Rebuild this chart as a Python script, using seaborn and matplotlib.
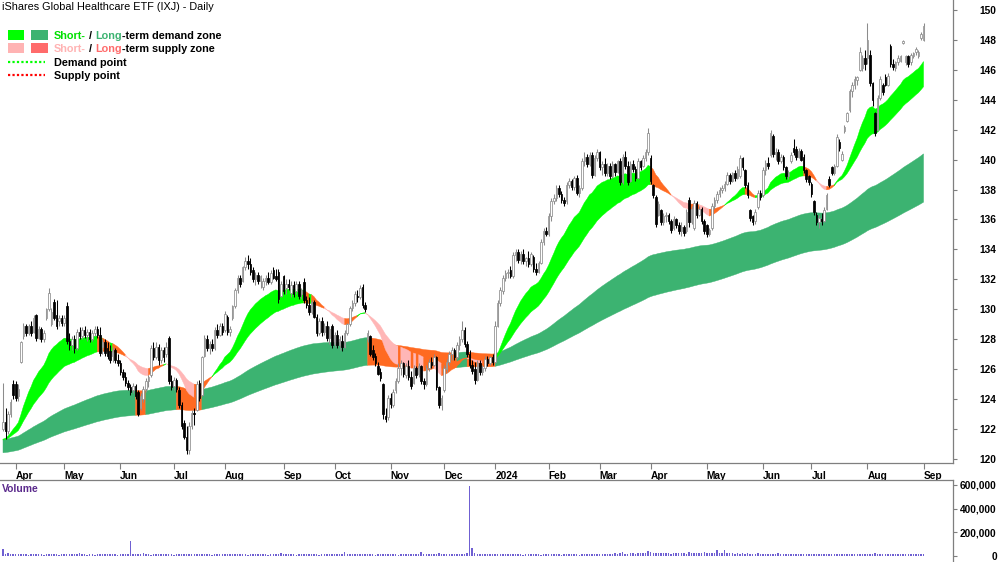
import numpy as np
import pandas as pd
import matplotlib
matplotlib.use("Agg")
import matplotlib.pyplot as plt
import seaborn as sns
from matplotlib.patches import Rectangle, Polygon
from matplotlib.lines import Line2D
import matplotlib.transforms as mtransforms

# ---------------- data ----------------
title = "iShares Global Healthcare ETF (IXJ) - Daily"
start_date = "2023-03-27"
end_date = "2024-09-03"
holidays = ["2023-04-07", "2023-05-29", "2023-06-19", "2023-07-04", "2023-09-04",
            "2023-11-23", "2023-12-25", "2024-01-01", "2024-01-15", "2024-02-19",
            "2024-03-29", "2024-05-27", "2024-06-19", "2024-07-04", "2024-09-02"]

opens = [
 122.0,122.5,121.9,123.0,125.0,125.0,124.2,126.5,128.2,128.9,
 128.4,128.9,128.5,129.6,128.1,128.7,128.0,129.4,130.0,129.0,
 130.5,129.6,129.2,129.4,129.1,130.2,127.9,127.6,128.0,127.4,
 128.5,128.2,128.6,128.3,128.5,128.0,128.4,128.7,128.3,127.5,
 127.8,127.4,127.2,126.9,127.3,126.6,126.4,125.8,125.5,125.1,
 124.8,124.6,124.9,124.5,123.4,124.0,124.7,125.2,125.6,127.4,
 126.8,127.5,126.6,127.3,127.0,128.1,125.2,124.9,125.3,124.6,
 123.6,122.4,121.5,120.6,122.2,123.1,123.3,125.1,124.3,126.9,
 128.0,127.4,127.7,127.4,128.6,128.3,128.9,128.6,129.5,128.5,
 129.4,130.2,131.3,132.1,131.9,132.8,133.2,133.0,132.6,132.0,
 132.3,131.9,131.5,131.9,132.1,131.8,132.6,132.2,132.5,130.9,
 132.2,131.4,131.7,131.1,131.6,131.2,131.7,131.0,131.8,130.6,
 130.3,129.8,130.5,129.5,128.4,129.2,128.5,128.9,128.1,128.9,
 127.7,128.3,127.6,127.9,127.5,128.4,129.0,130.1,130.4,130.9,
 130.8,131.5,130.3,128.0,128.2,127.3,126.9,126.2,125.8,125.0,
 122.9,122.8,124.1,123.6,124.6,125.2,126.1,126.4,125.6,126.2,
 125.5,125.1,126.1,125.7,126.2,125.2,125.0,126.1,126.5,126.3,
 126.8,124.8,123.6,124.6,126.0,126.5,127.0,127.3,126.8,127.6,
 128.0,128.6,127.7,127.0,126.3,126.0,125.3,126.4,125.8,126.1,
 126.7,126.4,126.8,126.5,128.9,130.4,131.2,132.1,132.4,132.6,
 132.2,133.6,133.8,133.3,133.7,133.2,133.4,133.0,133.5,132.7,
 132.5,133.1,134.5,135.2,135.0,136.2,137.2,137.4,138.1,137.7,
 137.3,137.2,138.3,138.6,138.2,138.8,137.8,138.1,139.9,140.2,
 139.7,140.3,139.0,140.1,140.5,139.5,139.7,139.1,139.6,138.9,
 139.7,139.2,139.9,138.5,140.2,139.6,138.6,139.7,139.4,138.8,
 139.9,139.6,140.1,140.5,140.1,138.3,137.5,136.3,136.6,135.8,
 136.2,136.3,135.9,135.4,136.0,135.6,135.2,135.5,135.2,137.3,
 135.8,135.4,137.1,136.3,136.7,135.9,135.6,135.0,135.4,136.9,
 137.3,137.7,138.0,138.1,138.4,139.0,138.6,139.1,138.8,138.9,
 140.1,139.3,138.3,136.6,136.2,135.9,136.8,137.8,137.6,139.3,
 139.8,140.3,141.6,140.4,140.5,139.9,140.2,139.5,138.9,139.9,
 140.8,140.7,140.2,140.6,140.2,139.3,138.9,138.4,137.2,136.3,
 135.8,136.0,135.9,136.7,138.7,139.5,139.1,139.6,141.2,140.0,
 141.9,142.6,143.3,144.6,145.0,145.3,146.0,146.1,146.8,146.8,
 147.0,145.1,143.1,142.0,144.1,145.0,145.5,145.0,147.6,146.4,
 146.1,146.5,146.6,147.8,146.5,146.9,146.5,146.9,147.2,146.9,
 148.1,148.0]

highs = [
 125.1,123.4,123.2,124.0,125.3,125.2,125.0,127.9,129.1,129.0,
 129.0,129.2,129.6,129.7,128.9,128.8,128.6,130.1,131.4,130.1,
 130.7,130.6,129.6,129.6,129.6,130.5,128.4,128.2,128.3,128.7,
 128.8,128.8,128.9,128.7,128.7,128.6,128.9,128.9,128.8,128.0,
 128.0,127.8,127.6,127.5,127.4,127.0,126.6,126.0,125.8,125.3,
 125.0,125.1,125.0,124.6,124.4,124.9,125.4,125.6,127.6,127.8,
 127.8,127.7,127.5,127.5,127.8,128.2,125.6,125.5,125.4,124.8,
 123.8,122.6,122.2,122.5,123.3,123.4,125.2,125.3,126.9,128.3,
 128.3,127.9,128.0,128.8,129.0,129.1,129.1,129.9,129.6,128.9,
 130.3,131.4,132.3,132.3,132.9,133.5,133.6,133.4,132.8,132.5,
 132.5,132.3,132.1,132.3,132.5,132.6,132.8,132.7,132.7,131.9,
 132.3,132.0,132.0,131.9,131.9,131.9,131.9,131.4,132.1,130.9,
 130.8,130.6,130.6,129.7,129.4,129.5,129.1,129.2,128.9,129.0,
 128.5,128.6,128.2,128.3,128.6,129.1,130.2,130.6,131.2,131.3,
 131.6,131.7,130.5,128.6,128.3,127.6,127.1,126.5,126.1,125.1,
 123.4,124.3,124.4,124.7,125.4,126.4,126.6,126.5,126.4,126.6,
 125.9,126.3,126.2,126.4,126.3,125.4,126.3,126.7,126.8,127.0,
 126.9,124.9,124.3,126.3,126.7,127.2,127.5,127.4,127.8,128.2,
 129.2,128.8,127.9,127.3,126.6,126.5,126.6,126.6,126.3,126.9,
 126.9,126.9,127.0,129.2,130.6,131.5,132.3,132.6,132.7,132.9,
 133.8,134.0,134.0,133.9,134.0,133.5,133.9,133.8,133.6,133.1,
 133.2,134.7,135.4,135.5,136.4,137.4,137.7,138.3,138.3,137.9,
 137.5,138.5,138.8,138.7,138.9,139.0,138.3,140.1,140.5,140.4,
 140.5,140.5,140.3,140.7,140.6,139.9,140.1,139.8,139.8,139.9,
 139.8,140.0,140.1,140.4,140.6,139.9,139.9,140.0,139.6,140.1,
 140.0,140.3,140.7,142.1,140.3,138.4,137.6,137.2,136.7,136.4,
 136.5,136.4,136.0,136.2,136.1,135.8,135.8,135.6,136.7,137.5,
 136.9,137.3,137.2,136.9,136.8,136.0,135.7,135.4,137.1,137.5,
 137.9,138.2,138.3,138.6,139.2,139.1,139.2,139.3,139.6,140.3,
 140.2,139.4,138.5,136.7,136.3,136.7,138.0,138.0,139.5,140.0,
 140.2,142.0,141.7,140.8,140.7,140.4,140.3,139.6,139.3,140.5,
 141.4,140.9,140.8,140.7,140.4,139.4,139.0,138.5,137.3,136.5,
 136.3,136.4,136.8,137.8,138.9,139.6,139.7,141.7,141.4,140.6,
 142.3,143.2,144.7,145.2,145.6,145.6,147.5,147.0,147.3,149.1,
 147.3,145.2,143.2,144.3,145.6,145.1,145.7,145.8,147.7,146.7,
 146.6,147.0,147.0,148.0,147.0,147.0,147.1,147.2,147.5,147.3,
 148.5,149.1]

lows = [
 121.9,121.3,121.7,122.8,124.0,123.9,123.9,126.4,128.0,128.2,
 128.3,128.2,128.4,127.9,128.0,127.8,127.8,129.3,129.9,128.9,
 129.3,128.7,128.9,128.9,128.9,127.7,127.3,127.3,127.1,127.3,
 128.0,128.0,128.1,127.9,127.8,127.9,128.2,128.1,126.9,127.0,
 126.9,126.7,126.4,126.5,126.4,126.2,125.6,125.3,124.9,124.6,
 124.3,124.4,124.0,122.9,123.3,123.8,124.5,124.8,125.5,126.6,
 126.7,126.3,126.4,126.5,126.8,125.0,124.6,124.6,124.5,123.4,
 122.0,121.3,120.3,120.3,122.0,122.3,123.2,123.9,124.2,126.8,
 127.2,127.0,127.2,127.3,128.1,128.2,128.3,128.5,128.3,128.2,
 129.3,130.1,131.1,131.5,131.8,132.6,132.7,132.3,131.8,131.6,
 131.7,131.4,131.3,131.6,131.7,131.7,132.0,131.9,130.4,130.8,
 131.0,131.0,131.3,130.8,130.8,131.0,130.7,130.7,130.4,130.1,
 129.6,129.7,129.4,128.2,128.3,128.2,128.3,127.9,127.7,127.4,
 127.5,127.4,127.3,127.2,127.4,128.3,128.9,129.9,130.2,130.5,
 130.7,130.1,129.8,127.8,126.9,126.6,126.2,125.6,125.2,122.7,
 122.5,122.6,123.4,123.5,124.4,125.1,125.6,125.5,125.4,125.3,
 124.7,125.0,125.4,125.5,125.0,124.7,124.9,125.9,126.1,126.2,
 124.6,123.4,123.3,124.5,125.8,126.3,126.6,126.6,126.7,127.3,
 127.8,127.5,126.8,126.1,125.7,125.0,125.2,125.6,125.6,125.9,
 126.2,126.3,126.3,126.4,128.8,130.2,131.0,131.9,132.1,132.1,
 132.1,133.2,133.1,133.0,133.0,132.9,132.8,132.9,132.5,132.3,
 132.4,133.0,134.3,134.9,134.9,135.9,137.0,137.2,137.5,137.1,
 136.9,137.0,138.1,138.0,138.0,137.6,137.5,138.0,139.6,139.5,
 139.6,138.8,138.9,139.9,139.3,139.0,138.9,138.9,138.7,138.8,
 138.9,139.1,138.3,138.4,139.4,138.3,138.5,139.2,138.6,138.7,
 139.3,139.5,139.9,140.3,138.4,137.4,135.5,136.2,135.6,135.6,
 135.8,135.7,135.1,135.3,135.4,135.0,134.9,134.9,135.1,135.5,
 135.7,135.3,136.1,136.2,135.7,135.0,134.8,134.9,135.3,136.7,
 137.1,137.5,137.8,137.9,138.3,138.4,138.5,138.6,138.7,138.8,
 139.3,138.1,137.4,135.9,135.6,135.7,136.7,137.3,137.5,139.0,
 139.4,140.2,140.2,140.0,139.7,139.8,139.3,138.7,138.7,139.8,
 140.3,140.0,140.1,139.9,139.1,138.5,138.3,137.5,136.3,135.6,
 135.4,135.6,135.8,136.6,138.2,139.0,139.0,139.5,140.6,139.9,
 141.8,142.5,143.2,144.2,144.7,145.0,145.9,145.9,146.0,146.4,
 144.9,143.6,141.6,141.9,144.0,144.3,144.9,144.9,146.2,146.0,
 145.9,146.3,146.5,147.7,146.3,146.2,146.3,146.8,147.0,146.8,
 148.0,147.9]

closes = [
 122.5,121.9,123.0,123.8,124.3,124.1,124.7,127.8,128.9,128.4,
 128.9,128.4,129.4,128.1,128.7,128.0,128.4,130.0,131.1,129.8,
 129.4,128.9,129.4,129.1,129.4,127.9,127.6,128.0,127.4,128.5,
 128.2,128.6,128.3,128.5,128.0,128.4,128.7,128.3,127.1,127.8,
 127.1,126.9,126.6,127.3,126.6,126.4,125.8,125.5,125.1,124.8,
 124.5,124.9,124.2,123.0,124.2,124.7,125.2,125.5,127.4,126.8,
 127.5,126.6,127.3,126.8,127.5,125.2,124.8,125.3,124.7,123.6,
 122.2,121.5,120.6,122.2,123.1,123.0,125.0,124.1,126.8,128.1,
 127.4,127.7,127.4,128.6,128.3,128.9,128.5,129.7,128.5,128.7,
 130.2,131.3,132.1,131.7,132.8,133.2,133.0,132.5,132.0,132.3,
 131.9,132.2,131.9,132.1,131.8,132.4,132.1,132.0,130.7,131.7,
 131.2,131.7,131.5,131.6,131.0,131.7,130.9,131.3,130.6,130.3,
 129.8,130.5,129.5,128.4,129.2,128.5,128.9,128.1,128.7,127.6,
 128.3,127.6,128.0,127.5,128.4,129.0,130.1,130.4,131.0,130.8,
 131.4,130.3,130.0,128.4,127.0,126.8,126.4,125.7,125.4,123.0,
 122.7,124.1,123.7,124.5,125.2,126.1,126.4,125.7,126.2,125.5,
 124.9,126.1,125.6,126.2,125.2,125.0,126.1,126.5,126.3,126.8,
 124.8,123.6,124.1,126.1,126.5,127.0,127.3,126.8,127.6,128.0,
 128.6,127.7,127.0,126.3,125.9,125.3,126.4,125.8,126.1,126.7,
 126.4,126.8,126.5,128.9,130.4,131.3,132.1,132.4,132.5,132.2,
 133.6,133.8,133.3,133.7,133.2,133.4,133.0,133.7,132.7,132.5,
 133.1,134.5,135.2,135.0,136.2,137.2,137.4,138.1,137.7,137.3,
 137.1,138.3,138.6,138.2,138.8,137.8,138.1,139.9,140.2,139.7,
 140.3,139.0,140.1,140.5,139.5,139.7,139.1,139.6,138.9,139.7,
 139.2,139.9,138.5,140.2,139.6,138.5,139.7,139.4,138.8,139.9,
 139.5,140.1,140.5,141.8,138.6,137.6,135.7,137.0,135.8,136.2,
 136.3,135.9,135.3,136.0,135.6,135.2,135.5,135.1,136.5,135.8,
 136.7,137.1,136.3,136.7,135.9,135.2,135.0,135.3,136.9,137.3,
 137.7,138.0,138.1,138.4,139.0,138.6,139.1,138.8,139.4,140.1,
 139.5,138.3,137.6,136.1,135.8,136.5,137.8,137.5,139.3,139.8,
 139.6,141.8,140.4,140.5,139.9,140.2,139.5,138.9,139.1,140.3,
 140.5,140.2,140.6,140.0,139.3,138.7,138.5,137.7,136.5,135.8,
 136.1,135.9,136.6,137.6,138.3,139.1,139.6,141.5,140.8,140.4,
 142.2,143.1,144.6,145.0,145.4,145.5,147.2,146.8,146.4,148.0,
 145.1,144.0,141.8,144.1,145.4,144.5,145.0,145.6,146.4,146.2,
 146.5,146.8,146.9,147.9,146.9,146.4,147.0,147.1,147.4,147.2,
 148.4,148.9]

volume_thousands = [
 60,18,22,15,20,17,14,16,19,15, 13,17,15,14,18,16,12,15,20,17,
 14,16,13,15,18,20,16,14,17,15, 28,16,14,13,17,15,12,16,14,18,
 15,17,14,19,16,13,18,20,15,17, 130,19,16,14,18,22,17,15,13,16,
 14,17,15,18,16,19,14,13,17,15, 20,18,16,14,19,17,15,16,14,18,
 17,15,13,16,18,14,17,15,19,16, 14,18,16,15,20,17,13,15,16,18,
 15,14,17,16,13,15,18,14,16,22, 17,15,14,18,16,13,15,17,14,16,
 18,15,14,16,13,17,15,19,16,14, 17,15,16,14,35,18,15,17,14,16,
 15,17,14,16,18,15,13,17,16,20, 18,16,14,15,17,13,16,15,14,18,
 16,15,17,14,35,16,14,18,15,17, 20,22,18,16,15,17,14,16,18,15,
 17,19,24,590,65,22,18,16,15,17, 14,16,15,18,20,17,14,16,15,18,
 16,14,17,15,13,16,18,15,14,17, 15,13,16,18,14,17,15,16,14,13,
 17,15,16,14,18,15,13,17,16,14, 15,18,16,14,17,15,20,16,18,15,
 22,18,24,33,20,18,26,22,19,24, 28,25,30,42,35,28,24,30,26,22,
 25,28,20,24,30,27,22,25,21,32, 26,24,28,22,25,34,30,26,24,28,
 50,27,24,48,26,22,25,21,24,20, 22,19,24,21,18,20,23,19,17,21,
 18,20,17,19,22,18,16,20,17,19, 18,16,19,17,20,15,18,16,19,17,
 16,19,17,15,18,20,16,17,19,15, 17,19,16,18,15,17,20,16,18,21,
 19,17,22,18,16,19,17,15,18,16, 20,17,15,18,16,19,17,15,18,16,
 19,17]

# zone (moving-average band) settings and starting levels
short_spans = (20, 40)
short_seeds = (121.2, 121.2)
long_spans = (130, 230)
long_seeds = (121.3, 120.4)

price_ticks = list(range(120, 151, 2))
volume_ticks = [0, 200000, 400000, 600000]

# ---------------- style ----------------
sns.set_theme(style="white")
plt.rcParams["font.family"] = ["Liberation Sans", "DejaVu Sans"]

C_SHORT_D = "#00FF00"
C_LONG_D = "#3CB371"
C_SHORT_S = "#FFB6B6"
C_LONG_S_LEG = "#FF6B6B"
C_ORANGE = "#FF6A21"
C_VOL = "#6F60D2"
C_AXIS = "#7F7F7F"

W, H = 1000, 562
def fx(px):
    return px / W
def fy(py):
    return 1 - py / H

dates = pd.bdate_range(start_date, end_date, freq="C", holidays=holidays)
n = min(len(dates), len(closes))
dates = dates[:n]
o = np.array(opens[:n]); h = np.array(highs[:n]); l = np.array(lows[:n]); c = np.array(closes[:n])
vol = np.array(volume_thousands[:n]) * 1000.0
idx = np.arange(n)

def ema(values, span, seed):
    a = 2.0 / (span + 1.0)
    out = np.empty(len(values))
    e = seed
    for k, v in enumerate(values):
        e = e + a * (v - e)
        out[k] = e
    return out

s_fast = ema(c, short_spans[0], short_seeds[0])
s_slow = ema(c, short_spans[1], short_seeds[1])
l_fast = ema(c, long_spans[0], long_seeds[0])
l_slow = ema(c, long_spans[1], long_seeds[1])

fig = plt.figure(figsize=(W / 100, H / 100), dpi=100)
ax = fig.add_axes([0, fy(463), fx(953), 463 / H])
axv = fig.add_axes([0, fy(562), fx(953), (562 - 480) / H])

x_left = -3 / 2.55
x_right = (953 - 3) / 2.55

def band(a, b, colors, z):
    lo = np.minimum(a, b); hi = np.maximum(a, b)
    start = 1
    for k in range(2, n + 1):
        if k == n or colors[k] != colors[start]:
            xs = np.arange(start - 1, k)
            pts = list(zip(xs, lo[start - 1:k])) + list(zip(xs[::-1], hi[start - 1:k][::-1]))
            ax.add_patch(Polygon(pts, closed=True, facecolor=colors[start],
                                 edgecolor=colors[start], linewidth=0.3, zorder=z))
            start = k

# long-term zone colours: price dipping into the zone flips it to supply until lows clear its top
l_top = np.maximum(l_fast, l_slow)
l_mid = (l_fast + l_slow) / 2
long_cols = []
in_supply = False
for i in range(n):
    if not in_supply and l[i] < l_mid[i]:
        in_supply = True
    elif in_supply and l[i] > l_top[i]:
        in_supply = False
    long_cols.append(C_ORANGE if (in_supply or l_fast[i] < l_slow[i]) else C_LONG_D)

# short-term zone colours
s_lo = np.minimum(s_fast, s_slow)
short_cols = []
for i in range(n):
    demand = s_fast[i] >= s_slow[i]
    if demand:
        short_cols.append(C_SHORT_D if c[i] >= s_lo[i] else C_ORANGE)
    else:
        short_cols.append(C_SHORT_S if c[i] < s_lo[i] else C_ORANGE)

band(l_fast, l_slow, long_cols, 1)
band(s_fast, s_slow, short_cols, 2)

# candles
up = c >= o
body_lo = np.minimum(o, c)
body_h = np.maximum(np.abs(c - o), 0.06)
ax.vlines(idx[up], l[up], h[up], color="#8C8C8C", lw=0.75, zorder=3)
ax.vlines(idx[~up], l[~up], h[~up], color="black", lw=0.75, zorder=3)
ax.bar(idx[up], body_h[up], bottom=body_lo[up], width=0.62, color="white",
       edgecolor="#8C8C8C", linewidth=0.55, zorder=4)
ax.bar(idx[~up], body_h[~up], bottom=body_lo[~up], width=0.62, color="black",
       edgecolor="black", linewidth=0.55, zorder=4)

ax.set_xlim(x_left, x_right)
ax.set_ylim(119.73, 150.66)

# axes cosmetics
label_font = dict(fontsize=7.3, fontweight="bold", color="black")
month_first = [i for i in range(1, n) if dates[i].month != dates[i - 1].month]
month_labels = [str(dates[i].year) if dates[i].month == 1 else dates[i].strftime("%b") for i in month_first]
ax.set_xticks(month_first)
ax.set_xticklabels(month_labels, **label_font)
shift = mtransforms.ScaledTranslation(1.5 / 72, 0, fig.dpi_scale_trans)
for t in ax.get_xticklabels():
    t.set_ha("left")
    t.set_transform(t.get_transform() + shift)
ax.tick_params(axis="x", direction="out", length=4, width=0.8, color=C_AXIS, pad=1.5, bottom=True)

ax.yaxis.tick_right()
ax.set_yticks(price_ticks)
ax.set_yticklabels([str(v) for v in price_ticks], **label_font)
for t in ax.get_yticklabels():
    t.set_ha("right")
ax.tick_params(axis="y", direction="out", length=3, width=0.8, color=C_AXIS, pad=28.5, right=True, left=False)
for side in ["top", "left"]:
    ax.spines[side].set_visible(False)
for side in ["bottom", "right"]:
    ax.spines[side].set_color(C_AXIS)
    ax.spines[side].set_linewidth(0.9)
ax.grid(False)

# volume panel
sns.barplot(x=idx, y=vol, native_scale=True, color=C_VOL, saturation=1, width=0.55,
            errorbar=None, ax=axv, linewidth=0)
axv.set_xlim(x_left, x_right)
axv.set_ylim(-50000, 642000)
axv.set_xlabel(""); axv.set_ylabel("")
axv.set_xticks([])
axv.yaxis.tick_right()
axv.set_yticks(volume_ticks)
axv.set_yticklabels([f"{v:,}" for v in volume_ticks], **label_font)
for t in axv.get_yticklabels():
    t.set_ha("right")
axv.tick_params(axis="y", direction="out", length=3, width=0.8, color=C_AXIS, pad=28.5, right=True, left=False)
for side in ["left", "bottom"]:
    axv.spines[side].set_visible(False)
for side in ["top", "right"]:
    axv.spines[side].set_color(C_AXIS)
    axv.spines[side].set_linewidth(0.9)
axv.grid(False)
axv.text(0.002, (562 - 489) / 82, "Volume", transform=axv.transAxes, color="#5B2A8C",
         fontsize=7.5, fontweight="bold", va="center", ha="left")

# title & legend
fig.text(fx(2), fy(7), title, fontsize=7.8, color="black", va="center", ha="left")

fig.add_artist(Rectangle((fx(8), fy(40)), fx(16), 10 / H, transform=fig.transFigure, color=C_SHORT_D, lw=0))
fig.add_artist(Rectangle((fx(31), fy(40)), fx(17), 10 / H, transform=fig.transFigure, color=C_LONG_D, lw=0))
fig.add_artist(Rectangle((fx(8), fy(53)), fx(16), 10 / H, transform=fig.transFigure, color="#FFB3B3", lw=0))
fig.add_artist(Rectangle((fx(31), fy(53)), fx(17), 10 / H, transform=fig.transFigure, color=C_LONG_S_LEG, lw=0))
fig.add_artist(Line2D([fx(8), fx(45)], [fy(62), fy(62)], transform=fig.transFigure,
                      color=C_SHORT_D, lw=1.6, linestyle=(0, (1, 1))))
fig.add_artist(Line2D([fx(8), fx(45)], [fy(75), fy(75)], transform=fig.transFigure,
                      color="#FF0000", lw=1.6, linestyle=(0, (1, 1))))

renderer = fig.canvas.get_renderer()
leg_font = dict(fontsize=7.8, fontweight="bold")

def rich_text(x_px, y_px, parts):
    x = fx(x_px)
    for s, col in parts:
        t = fig.text(x, fy(y_px), s, color=col, va="baseline", ha="left", **leg_font)
        bb = t.get_window_extent(renderer)
        x += bb.width / W

rich_text(54, 39, [("Short-", "#00E000"), (" / ", "black"), ("Long", C_LONG_D), ("-term demand zone", "black")])
rich_text(54, 52, [("Short-", "#FFB3B3"), (" / ", "black"), ("Long", C_LONG_S_LEG), ("-term supply zone", "black")])
rich_text(54, 66, [("Demand point", "black")])
rich_text(54, 79, [("Supply point", "black")])

fig.savefig("out.png", dpi=100)
